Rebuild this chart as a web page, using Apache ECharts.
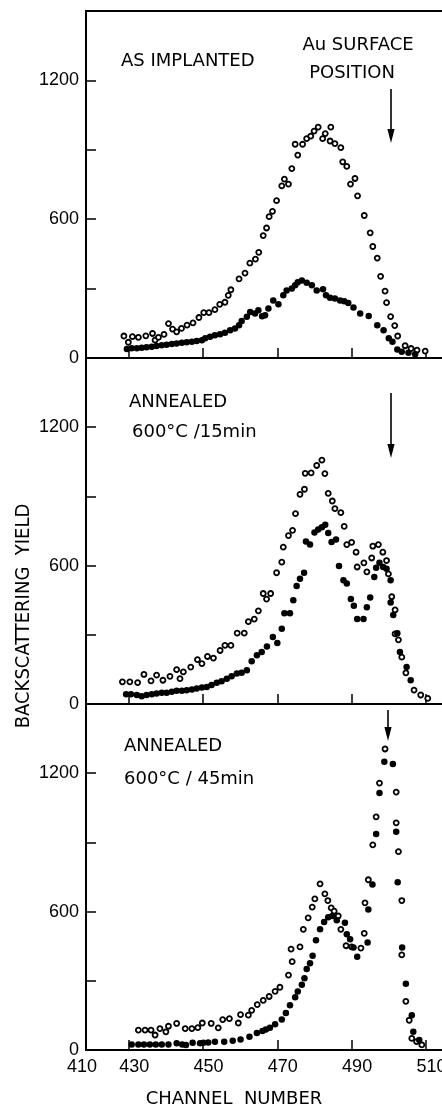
<!DOCTYPE html>
<html><head><meta charset="utf-8">
<script src="https://cdn.jsdelivr.net/npm/echarts@6/dist/echarts.min.js"></script>
<style>html,body{margin:0;padding:0;background:#fff}#c{width:442px;height:1109px}</style>
</head><body><div id="c"></div>
<script>
// Axis ticks / labels
const xTickValues = [430, 450, 470, 490, 510];
const xLabelValues = [418.5, 430, 450, 470, 490, 510];   // broken axis: left edge labelled 410
const xLabelTexts = ['410', '430', '450', '470', '490', '510'];
const yLabelValues = [0, 600, 1200];

// Panel 1: as implanted  [channel, yield]
const asImplOpen = [[428.7,95],[429.9,68],[431.0,92],[432.6,89],[434.6,96],[436.4,106],[437.1,77],[438.0,89],[439.5,102],[440.7,149],[441.8,125],[442.9,113],[444.2,128],[445.7,142],[447.3,152],[448.9,175],[450.2,196],[451.6,196],[453.2,209],[454.5,232],[455.9,241],[456.8,271],[457.5,295],[459.7,342],[461.3,367],[462.6,410],[464.1,427],[465.0,457],[466.2,529],[467.1,562],[467.8,611],[468.7,634],[469.8,680],[471.2,744],[471.9,773],[473.0,752],[473.9,819],[474.8,924],[475.5,877],[476.8,924],[477.9,948],[479.0,959],[479.9,981],[481.0,998],[482.2,948],[482.9,970],[484.2,938],[484.4,998],[485.5,927],[487.1,909],[487.6,848],[488.7,828],[489.7,752],[490.9,776],[491.6,701],[493.4,616],[495.0,541],[495.7,482],[496.9,432],[497.8,353],[499.0,289],[499.4,239],[500.5,179],[501.6,140],[502.4,95],[504.4,53],[506.0,41],[507.6,34],[509.8,30]];
const asImplFilled = [[429.5,39],[430.8,42],[432.2,42],[433.5,44],[434.8,46],[436.2,49],[437.5,52],[438.9,55],[440.2,57],[441.6,60],[442.9,63],[444.3,66],[445.6,68],[447.0,70],[448.3,74],[449.7,77],[450.6,85],[451.9,92],[453.2,98],[454.6,103],[455.9,109],[457.3,120],[458.6,128],[459.7,142],[460.4,160],[461.8,178],[462.7,199],[464.0,192],[464.9,206],[465.9,181],[466.7,185],[467.6,214],[468.9,249],[470.3,232],[471.6,271],[472.5,292],[473.9,300],[474.8,314],[475.5,327],[476.6,335],[477.9,325],[479.3,314],[480.6,292],[482.3,297],[483.1,271],[484.2,260],[485.5,257],[486.9,249],[488.0,245],[489.1,238],[490.5,218],[492.3,192],[494.6,182],[496.9,142],[498.6,120],[500.0,85],[501.0,70],[502.3,37],[503.5,27],[505.3,23],[507.1,16]];

// Panel 2: annealed 600C / 15 min
const ann15Open = [[428.3,96],[430.3,96],[432.4,93],[434.1,128],[436.0,100],[437.5,125],[439.2,103],[441.1,120],[442.9,149],[443.8,110],[444.7,139],[446.7,160],[448.5,192],[449.7,175],[451.2,206],[452.8,199],[454.6,232],[455.9,254],[457.5,254],[459.2,307],[461.1,307],[462.2,357],[463.8,368],[464.9,404],[466.2,479],[467.1,455],[468.2,479],[469.8,569],[471.2,615],[471.6,680],[473.0,730],[474.1,753],[474.9,825],[476.1,909],[477.3,931],[477.5,1000],[479.1,1002],[480.6,1034],[482.0,1057],[482.8,999],[483.7,913],[484.8,880],[485.5,847],[487.1,830],[488.0,770],[488.7,691],[490.0,701],[491.2,658],[491.5,594],[493.3,612],[494.1,573],[495.4,633],[495.7,684],[497.2,691],[498.4,658],[499.4,622],[499.9,564],[500.8,465],[501.7,408],[501.7,304],[502.6,278],[503.5,203],[504.6,135],[506.8,60],[508.6,39],[510.5,24]];
const ann15Filled = [[429.3,42],[430.6,42],[432.2,39],[433.5,34],[434.8,39],[436.2,42],[437.5,46],[438.9,49],[440.2,49],[441.6,53],[442.9,57],[444.3,57],[445.6,60],[447.0,63],[448.3,67],[449.7,72],[451.0,74],[452.3,82],[453.7,92],[455.0,99],[456.4,110],[457.7,120],[459.1,132],[460.4,135],[461.8,146],[463.1,185],[464.5,211],[465.8,225],[467.2,249],[468.8,290],[470.0,264],[471.2,326],[471.9,393],[473.4,393],[474.3,450],[475.2,512],[476.1,543],[477.2,569],[477.7,705],[478.8,691],[480.0,744],[481.0,756],[482.0,766],[482.9,777],[483.7,741],[484.6,702],[485.8,713],[486.6,598],[487.8,536],[488.7,522],[489.8,455],[490.6,426],[491.5,369],[493.2,369],[494.1,419],[495.0,462],[496.1,551],[496.6,591],[497.5,612],[498.5,594],[499.4,586],[500.5,536],[500.5,440],[501.2,386],[502.3,307],[503.0,225],[504.8,160],[505.9,103]];

// Panel 3: annealed 600C / 45 min
const ann45Open = [[432.6,86],[434.4,86],[436.0,86],[437.1,65],[438.4,93],[440.0,79],[440.7,103],[442.9,115],[445.2,93],[447.0,93],[448.6,97],[449.8,117],[452.2,115],[454.1,96],[455.3,132],[457.1,136],[459.5,117],[460.1,153],[462.2,151],[463.1,172],[464.6,197],[466.2,215],[467.8,232],[469.4,254],[470.7,272],[473.0,325],[473.7,437],[474.0,383],[476.1,447],[477.0,523],[478.3,573],[479.4,619],[480.1,655],[481.5,720],[482.8,677],[483.6,648],[484.5,616],[485.3,602],[486.4,581],[487.1,523],[488.5,452],[490.0,447],[492.5,442],[493.4,506],[493.6,638],[494.5,738],[495.7,889],[496.6,1011],[497.5,1157],[499.0,1305],[502.0,1118],[502.0,985],[502.6,860],[503.5,648],[503.5,412],[504.6,211],[505.5,129],[506.2,50],[507.5,36],[508.9,22]];
const ann45Filled = [[430.8,24],[432.6,24],[434.1,24],[435.7,24],[437.3,24],[438.9,24],[440.7,24],[442.9,29],[444.4,24],[445.4,22],[447.2,31],[449.2,29],[450.1,31],[451.4,33],[453.2,36],[455.7,36],[458.0,40],[460.1,46],[462.5,57],[464.5,74],[466.0,82],[466.9,89],[468.0,96],[469.4,112],[471.2,132],[472.3,160],[473.4,194],[474.8,229],[475.5,254],[476.6,283],[477.3,311],[477.9,351],[478.8,376],[479.5,409],[480.4,476],[481.5,523],[482.6,555],[483.7,576],[484.8,581],[486.0,562],[488.2,552],[488.7,502],[489.6,480],[490.5,444],[491.5,404],[494.3,466],[494.5,609],[495.6,717],[496.6,936],[497.5,1114],[498.8,1250],[501.1,1240],[502.0,946],[502.4,727],[503.6,444],[504.6,287],[506.2,151],[506.6,79],[508.2,43]];

const panels = [[asImplOpen, asImplFilled], [ann15Open, ann15Filled], [ann45Open, ann45Filled]];

const chart = echarts.init(document.getElementById('c'), null, {renderer: 'canvas'});
const gridBoxes = [{top: 11, height: 347}, {top: 358, height: 346}, {top: 704, height: 346}];
const labelFont = {color: '#000', fontSize: 18, fontFamily: '"Liberation Sans", Arial, sans-serif'};
const txt = '"DejaVu Sans", sans-serif';

const grid = gridBoxes.map(g => ({left: 86, width: 358.5, top: g.top, height: g.height, show: true,
  borderColor: '#000', borderWidth: 2, backgroundColor: 'transparent', containLabel: false, outerBoundsMode: 'none'}));

const xAxis = gridBoxes.map((g, i) => ({
  type: 'value', gridIndex: i, min: 418.5, max: 515,
  axisLine: {show: true, lineStyle: {color: '#000', width: 2}},
  axisTick: {show: true, inside: true, length: 10, customValues: xTickValues, lineStyle: {color: '#000', width: 1.5}},
  axisLabel: i === 2 ? Object.assign({show: true, margin: 8, customValues: xLabelValues,
    formatter: v => { const k = xLabelValues.findIndex(a => Math.abs(a - v) < 0.01); return k < 0 ? '' : (k === 0 ? '{l|' + xLabelTexts[k] + '}' : '{r|' + xLabelTexts[k] + '}'); },
    rich: {l: Object.assign({padding: [0, 8, 0, 0]}, labelFont), r: Object.assign({padding: [0, 0, 0, 11]}, labelFont)}}, labelFont)
    : {show: false},
  splitLine: {show: false}
}));

const yAxis = gridBoxes.map((g, i) => ({
  type: 'value', gridIndex: i, min: 0, max: 1500, interval: 300,
  axisLine: {show: true, lineStyle: {color: '#000', width: 2}},
  axisTick: {show: true, inside: true, length: 10, lineStyle: {color: '#000', width: 1.5}},
  axisLabel: Object.assign({margin: 7, formatter: v => yLabelValues.includes(v) ? String(v) : ''}, labelFont),
  splitLine: {show: false}
}));

const series = [];
panels.forEach((p, i) => {
  series.push({type: 'scatter', xAxisIndex: i, yAxisIndex: i, data: p[0], symbol: 'circle', symbolSize: 5,
    itemStyle: {color: '#fff', borderColor: '#000', borderWidth: 1.8, opacity: 1}, silent: true, animation: false, z: 2});
  series.push({type: 'scatter', xAxisIndex: i, yAxisIndex: i, data: p[1], symbol: 'circle', symbolSize: 6.5,
    itemStyle: {color: '#000', opacity: 1}, silent: true, animation: false, z: 3});
});

function text(t, x, y, opts) {
  return Object.assign({type: 'text', x: x, y: y, silent: true, z: 10,
    style: Object.assign({text: t, fill: '#000', font: '18px ' + txt, textAlign: 'left', textVerticalAlign: 'middle'}, (opts && opts.style) || {})},
    opts && opts.rotation !== undefined ? {rotation: opts.rotation} : {});
}
function arrow(x, y1, y2) {
  return [
    {type: 'line', silent: true, z: 10, shape: {x1: x, y1: y1, x2: x, y2: y2 - 6}, style: {stroke: '#000', lineWidth: 1.6}},
    {type: 'polygon', silent: true, z: 10, shape: {points: [[x - 3.6, y2 - 14], [x + 3.6, y2 - 14], [x, y2]]}, style: {fill: '#000'}}
  ];
}

const graphic = [
  text('AS IMPLANTED', 121, 61),
  text('Au SURFACE', 358, 45, {style: {textAlign: 'center'}}),
  text('POSITION', 352, 73, {style: {textAlign: 'center'}}),
  ...arrow(391, 89, 143),
  text('ANNEALED', 129, 402),
  text('600°C /15min', 132, 432),
  ...arrow(391, 393, 458),
  text('ANNEALED', 124, 746),
  text('600°C / 45min', 124, 779),
  ...arrow(388, 710, 741),
  text('BACKSCATTERING  YIELD', 24, 616, {rotation: Math.PI / 2,
    style: {textAlign: 'center', font: '20px "Liberation Sans Narrow", "DejaVu Sans Condensed", sans-serif'}}),
  text('CHANNEL  NUMBER', 234, 1099, {style: {textAlign: 'center', font: '18px ' + txt}})
];

chart.setOption({animation: false, backgroundColor: '#fff', grid, xAxis, yAxis, series, graphic});
</script></body></html>
